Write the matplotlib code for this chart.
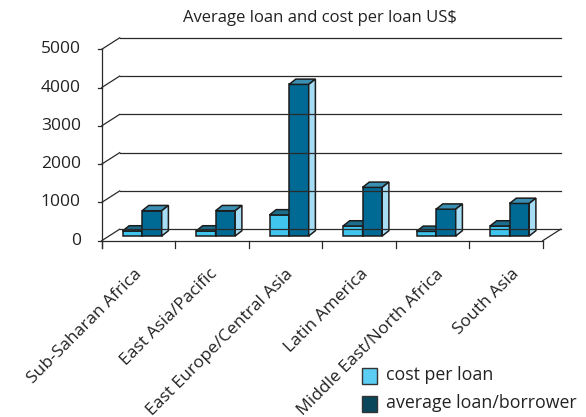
import matplotlib.pyplot as plt
from matplotlib.patches import Polygon, Rectangle

# average loan size vs. cost per loan, by region (US$)
regions = ["Sub-Saharan Africa", "East Asia/Pacific", "East Europe/Central Asia",
           "Latin America", "Middle East/North Africa", "South Asia"]
cost_per_loan = [130, 130, 550, 260, 120, 260]
avg_loan = [660, 660, 3960, 1270, 700, 850]
y_ticks = [0, 1000, 2000, 3000, 4000, 5000]
series_names = ["cost per loan", "average loan/borrower"]

plt.rcParams['font.family'] = ['Open Sans', 'DejaVu Sans']

W, H = 586, 417
X0, Y0 = 101.7, 240.7        # front-left floor corner, pixels
PX_X = 73.5                  # pixels per category
PX_Y = 0.03828               # pixels per dollar
DX, DY = 18 / PX_X, 11.5 / PX_Y      # depth of the box
BDX, BDY = 6.7 / PX_X, 5.3 / PX_Y    # depth of a bar
BASE = 4.7 / PX_Y                    # bars sit a bit behind the front edge
BAR_W = 19.6 / PX_X
BAR_OFF = 20.8 / PX_X

EDGE = '#1c1c1c'
GRID = '#2a2a2a'
TXT = '#222222'

fig = plt.figure(figsize=(W / 100, H / 100), dpi=100)
ax = fig.add_axes([0, 0, 1, 1])
ax.set_xlim(-X0 / PX_X, (W - X0) / PX_X)
ax.set_ylim((Y0 - H) / PX_Y, Y0 / PX_Y)
ax.axis('off')

n = len(regions)

# back wall gridlines + left wall diagonals
for v in y_ticks:
    ax.plot([DX, n + DX], [v + DY, v + DY], color=GRID, lw=0.9)
    ax.plot([0, DX], [v, v + DY], color=GRID, lw=0.9)
    ax.plot([-3.5 / PX_X, 0], [v, v], color=GRID, lw=0.9)
    ax.text(-21 / PX_X, v, str(v), ha='right', va='center', fontsize=12.5, color=TXT)

# floor and front axis
ax.plot([0, n], [0, 0], color=GRID, lw=0.9)
ax.plot([n, n + DX], [0, DY], color=GRID, lw=0.9)
ax.plot([0, 0], [-7 / PX_Y, y_ticks[-1]], color=GRID, lw=0.9)
for i in range(n + 1):
    ax.plot([i, i], [0, -7 / PX_Y], color=GRID, lw=0.9)


def bar3d(xl, value, front, top, side):
    b = BASE
    faces = [
        ([(xl, b), (xl + BAR_W, b), (xl + BAR_W, b + value), (xl, b + value)], front),
        ([(xl, b + value), (xl + BAR_W, b + value),
          (xl + BAR_W + BDX, b + value + BDY), (xl + BDX, b + value + BDY)], top),
        ([(xl + BAR_W, b), (xl + BAR_W + BDX, b + BDY),
          (xl + BAR_W + BDX, b + value + BDY), (xl + BAR_W, b + value)], side),
    ]
    for pts, c in faces:
        ax.add_patch(Polygon(pts, closed=True, facecolor=c, edgecolor=EDGE,
                             lw=1.1, joinstyle='miter'))


for i in range(n):
    x = i + BAR_OFF
    bar3d(x, cost_per_loan[i], '#3fc5ee', '#1d6e8c', '#a6dcf4')
    bar3d(x + BAR_W, avg_loan[i], '#006994', '#3b8fb2', '#a6dcf4')

# category labels
for i, name in enumerate(regions):
    ax.text(0.44 + i * 1.026, (Y0 - 266) / PX_Y, name, rotation=45,
            ha='right', va='top', rotation_mode='anchor', fontsize=12.5, color=TXT)

fig.text(320 / W, 1 - 18 / H, "Average loan and cost per loan US$",
         ha='center', va='center', fontsize=12, color=TXT)

# legend
for k, (lab, c) in enumerate(zip(series_names, ['#5ccef4', '#0b475a'])):
    mid = 375.5 + k * 28
    fig.patches.append(Rectangle((362 / W, 1 - (mid + 8) / H), 15 / W, 16 / H,
                                 transform=fig.transFigure, facecolor=c,
                                 edgecolor='#333333', lw=1.0))
    fig.text(386 / W, 1 - mid / H, lab, ha='left', va='center',
             fontsize=12.8, color=TXT)

fig.savefig('out.png', dpi=100)
